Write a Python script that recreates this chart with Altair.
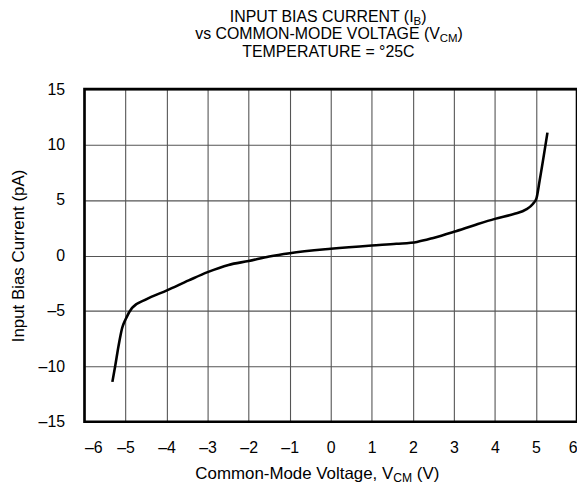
import altair as alt
import pandas as pd

# ---- data ----
vcm = [-5.32, -5.25, -5.17, -5.08, -5.0, -4.84, -4.51, -3.99, -3.46, -3.0, -2.49,
       -2.0, -1.5, -1.0, 0.0, 1.0, 1.6, 2.1, 2.5, 3.0, 3.5, 4.0, 4.5, 4.75,
       4.93, 5.01, 5.09, 5.28]
ib = [-11.4, -9.95, -8.16, -6.52, -5.77, -4.73, -3.98, -3.15, -2.25, -1.5, -0.85,
      -0.5, -0.1, 0.2, 0.6, 0.9, 1.05, 1.22, 1.58, 2.13, 2.73, 3.3, 3.78, 4.13,
      4.67, 5.12, 6.76, 11.08]
x_ticks = list(range(-6, 7))
y_ticks = [-15, -10, -5, 0, 5, 10, 15]

title_lines = [
    [("INPUT BIAS CURRENT (I", 0), ("B", 1), (")", 0)],
    [("vs COMMON-MODE VOLTAGE (V", 0), ("CM", 1), (")", 0)],
    [("TEMPERATURE = °25C", 0)],
]
x_title = [("Common-Mode Voltage, V", 0), ("CM", 1), (" (V)", 0)]
y_title = "Input Bias Current (pA)"

FONT = "Liberation Sans, Arial, Helvetica, sans-serif"
FS = 16
SUB = 0.72

W, H = 496, 335

# Arial/Helvetica advance widths (per 1000 em), for placing subscript runs
AFM = {' ': 278, '(': 333, ')': 333, '-': 333, ',': 278, '=': 584, '°': 400,
       'A': 667, 'B': 667, 'C': 722, 'D': 722, 'E': 667, 'G': 778, 'I': 278,
       'L': 556, 'M': 833, 'N': 722, 'O': 778, 'P': 667, 'R': 722, 'S': 667,
       'T': 611, 'U': 722, 'V': 667, 'a': 556, 'd': 556, 'e': 556, 'g': 556,
       'l': 222, 'm': 833, 'n': 556, 'o': 556, 's': 500, 't': 278, 'v': 500}


def tw(s, size):
    return sum(AFM.get(c, 556) for c in s) * size / 1000.0


def text_layer(t, x, y, s, align):
    return (alt.Chart(pd.DataFrame({"t": [t]}))
            .mark_text(align=align, baseline="alphabetic", font=FONT,
                       fontSize=s, color="black")
            .encode(x=alt.value(x), y=alt.value(y), text="t:N"))


def runs_layers(runs, cx, base_y, fs=FS):
    sizes = [fs * SUB if sub else fs for _, sub in runs]
    total = sum(tw(t, s) for (t, _), s in zip(runs, sizes))
    x = cx - total / 2.0
    out = []
    for k, ((t, sub), s) in enumerate(zip(runs, sizes)):
        y = base_y + (3 if sub else 0)
        w = tw(t, s)
        if k == 0:
            # long first run anchored at its end so that kerning cannot open a gap
            out.append(text_layer(t, x + w, y, s, "right"))
        else:
            stripped = t.lstrip(" ")
            lead = tw(t[: len(t) - len(stripped)], s)
            out.append(text_layer(stripped, x + lead, y, s, "left"))
        x += w
    return out


df = pd.DataFrame({"v": vcm, "i": ib})

neg = "datum.value < 0 ? '\u2013' + format(-datum.value, 'd') : format(datum.value, 'd')"

line = alt.Chart(df).mark_line(color="black", strokeWidth=2.6,
                               interpolate="monotone").encode(
    x=alt.X("v:Q", scale=alt.Scale(domain=[-6, 6], nice=False),
            axis=alt.Axis(values=x_ticks, title=None, grid=True, ticks=False,
                          tickSize=0, domain=False, labelPadding=18,
                          labelExpr=neg)),
    y=alt.Y("i:Q", scale=alt.Scale(domain=[-15, 15], nice=False),
            axis=alt.Axis(values=y_ticks, title=y_title, grid=True, ticks=False,
                          tickSize=0, domain=False, labelPadding=20,
                          labelExpr=neg, titleX=-57, titleY=H / 2,
                          titleAngle=270, titleAlign="center",
                          titleBaseline="bottom", titleFontSize=17)),
)

border = alt.Chart(pd.DataFrame({"a": [0]})).mark_rect(
    fill=None, stroke="black", strokeWidth=2.6).encode(
    x=alt.value(0), x2=alt.value(W), y=alt.value(0), y2=alt.value(H))

layers = [line, border]
cx = W / 2 - 3
for k, runs in enumerate(title_lines):
    layers += runs_layers(runs, cx, -68 + k * 18)
layers += runs_layers(x_title, W / 2 - 14, H + 58, fs=17)

chart = alt.layer(*layers).properties(
    width=W, height=H,
    autosize=alt.AutoSizeParams(type="none"),
    padding={"left": 77, "top": 80, "right": 0, "bottom": 72},
).configure_view(stroke=None).configure_axis(
    gridColor="#555", gridWidth=1.1, gridOpacity=1,
    labelFont=FONT, labelFontSize=FS, labelColor="black",
    titleFont=FONT, titleFontSize=FS, titleColor="black", titleFontWeight="normal",
)

chart.save("out.html", embed_options={"renderer": "svg", "actions": False})
